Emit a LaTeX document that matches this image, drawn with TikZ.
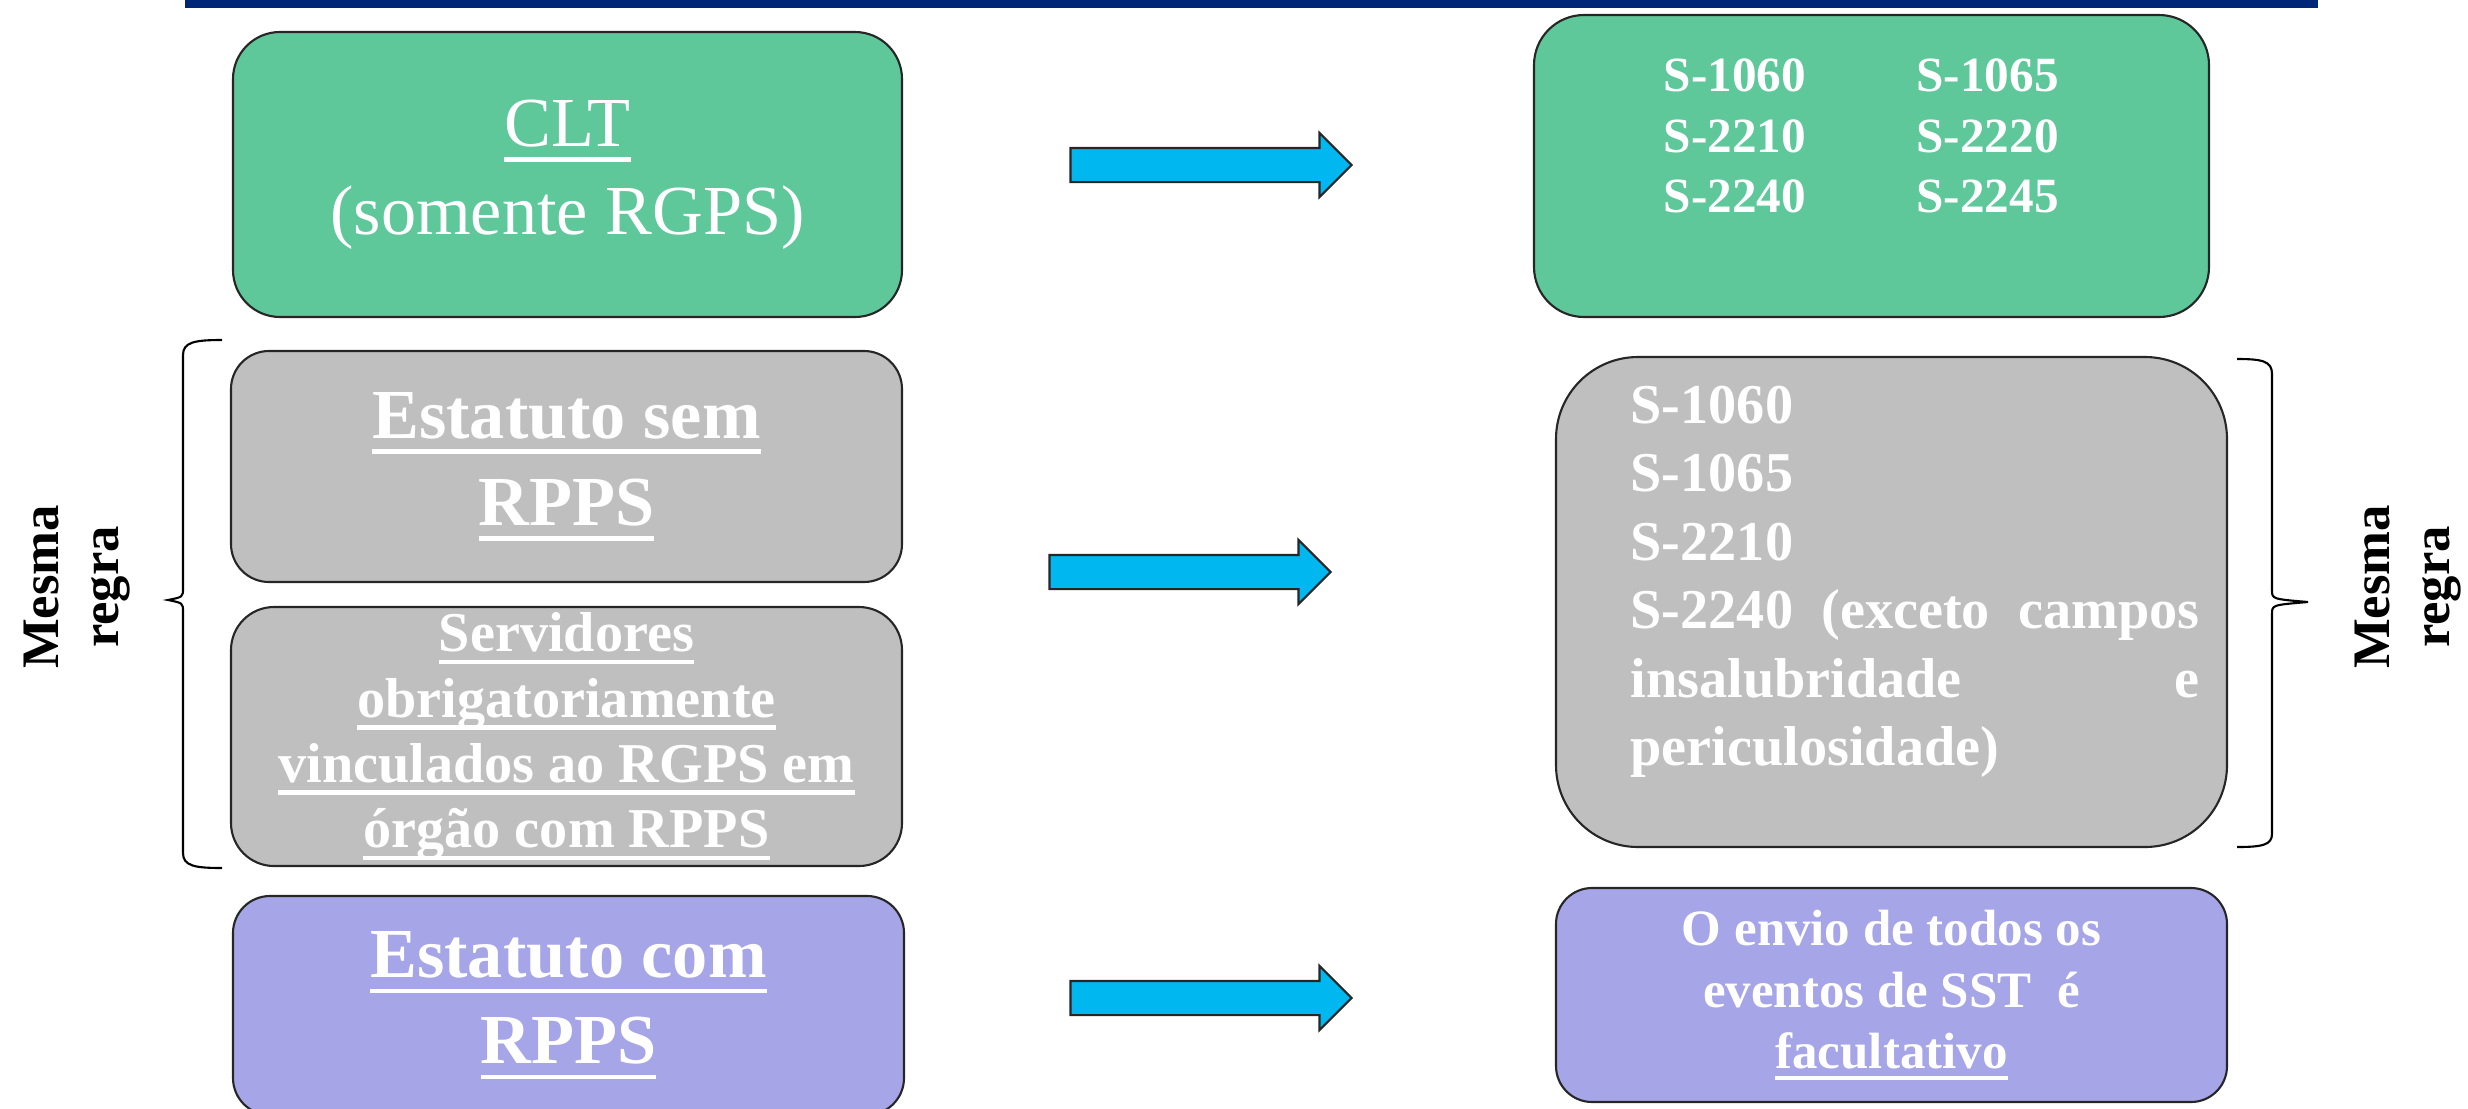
\documentclass[tikz,border=0pt]{standalone}
\usepackage{fontspec}
\setmainfont{Liberation Serif}
\usepackage{tikz}
\usetikzlibrary{shapes, positioning}

\definecolor{verde}{RGB}{95,200,155}
\definecolor{cinza}{RGB}{191,191,191}
\definecolor{lilas}{RGB}{165,165,232}
\definecolor{ciano}{RGB}{0,183,240}
\definecolor{marinho}{RGB}{0,38,120}

% underline with a fixed depth below the baseline
\newcommand{\sublinha}[1]{\leavevmode\setbox0\hbox{#1}\rlap{\rule[-0.22em]{\wd0}{1.3pt}}\box0}

\tikzstyle{caixa} = [rectangle, draw=black!85, line width=0.6pt, text=white, align=center, inner sep=0pt]
\tikzstyle{seta} = [single arrow, draw=black!85, fill=ciano, line width=0.6pt, minimum height=2.81cm, single arrow head extend=0.15cm, inner xsep=0pt, inner ysep=0.16cm]
\tikzstyle{lista} = [text=white, align=left, inner sep=0pt]
\tikzstyle{chave} = [draw, line width=0.6pt]
\tikzstyle{regra} = [rotate=90, align=center, inner sep=0pt, font=\fontsize{15}{17}\selectfont\bfseries]

\begin{document}
\begin{tikzpicture}
			\useasboundingbox (0,0) rectangle (24.68,-11.08);
			\fill [marinho] (1.85,0.1) rectangle (23.18,-0.08);

			% left column
			\node [caixa, fill=verde, minimum width=6.69cm, minimum height=2.85cm, rounded corners=0.47cm, font=\fontsize{20}{25}\selectfont] (clt) at (5.675,-1.745) {\sublinha{CLT}\\(somente RGPS)};
			\node [caixa, fill=cinza, minimum width=6.71cm, minimum height=2.31cm, rounded corners=0.38cm, font=\fontsize{20}{24.7}\selectfont\bfseries] (semrpps) at (5.665,-4.665) {\sublinha{Estatuto sem}\\\sublinha{RPPS}};
			\node [caixa, fill=cinza, minimum width=6.71cm, minimum height=2.59cm, rounded corners=0.43cm, font=\fontsize{16}{18.6}\selectfont\bfseries] (servidores) at (5.665,-7.365) {\sublinha{Servidores}\\\sublinha{obrigatoriamente}\\\sublinha{vinculados ao RGPS em}\\\sublinha{órgão com RPPS}};
			\node [caixa, fill=lilas, minimum width=6.71cm, minimum height=2.19cm, rounded corners=0.37cm, font=\fontsize{20}{24.5}\selectfont\bfseries] (comrpps) at (5.685,-10.055) {\sublinha{Estatuto com}\\\sublinha{RPPS}};

			% right column
			\node [caixa, fill=verde, minimum width=6.75cm, minimum height=3.02cm, rounded corners=0.50cm] (evclt) at (18.715,-1.66) {};
			\node [lista, below right=0.35cm and 1.30cm of evclt.north west, font=\fontsize{14}{17.2}\selectfont\bfseries] (evcltlista) {\begin{tabular}{@{}p{2.53cm}@{}l@{}}
				S-1060 & S-1065\\
				S-2210 & S-2220\\
				S-2240 & S-2245
			\end{tabular}};
			\node [caixa, fill=cinza, minimum width=6.71cm, minimum height=4.90cm, rounded corners=0.82cm] (evsem) at (18.915,-6.02) {};
			\node [lista, below right=0.29cm and 0.75cm of evsem.north west, font=\fontsize{16}{19.5}\selectfont\bfseries] (evsemlista) {S-1060\\S-1065\\S-2210\\\makebox[5.69cm][s]{S-2240 (exceto campos}\\\makebox[5.69cm][s]{insalubridade e}\\periculosidade)};
			\node [caixa, fill=lilas, minimum width=6.71cm, minimum height=2.14cm, rounded corners=0.36cm, font=\fontsize{14.5}{17.6}\selectfont\bfseries] (evcom) at (18.915,-9.95) {O envio de todos os\\eventos de SST\ \ é\\\sublinha{facultativo}};

			% arrows between the columns
			\node [seta] (seta1) at (12.025,-1.65) {};
			\node [seta] (seta2) at (11.815,-5.72) {};
			\node [seta] (seta3) at (12.025,-9.98) {};

			% braces
			\path [chave] (2.22,-3.40) .. controls (1.95,-3.40) and (1.83,-3.42) .. (1.83,-3.55) -- (1.83,-5.88) .. controls (1.83,-5.97) .. (1.68,-6.00) .. controls (1.83,-6.03) .. (1.83,-6.12) -- (1.83,-8.53) .. controls (1.83,-8.66) and (1.95,-8.68) .. (2.22,-8.68);
			\path [chave] (22.37,-3.59) .. controls (22.62,-3.59) and (22.72,-3.61) .. (22.72,-3.74) -- (22.72,-5.90) .. controls (22.72,-5.99) .. (23.08,-6.02) .. controls (22.72,-6.05) .. (22.72,-6.14) -- (22.72,-8.34) .. controls (22.72,-8.45) and (22.62,-8.47) .. (22.37,-8.47);
			\node [regra] (regraesq) at (0.77,-5.87) {Mesma\\regra};
			\node [regra] (regradir) at (24.08,-5.87) {Mesma\\regra};
		\end{tikzpicture}
\end{document}
